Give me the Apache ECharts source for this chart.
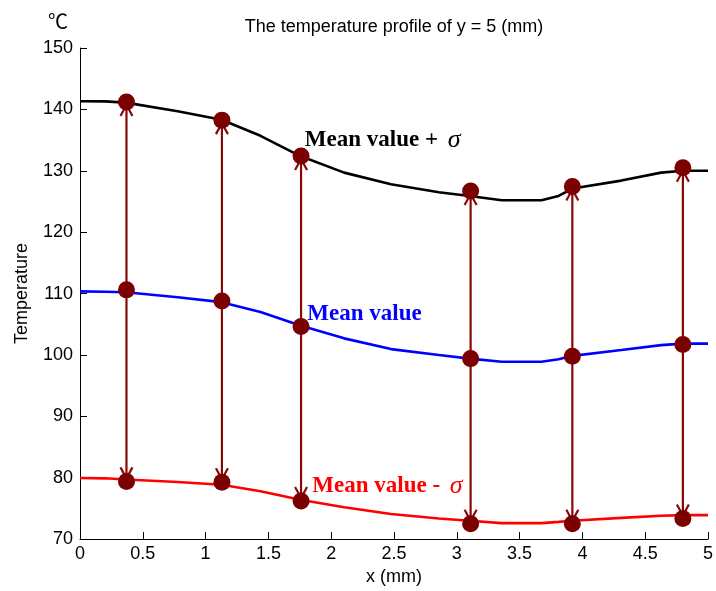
<!DOCTYPE html>
<html>
<head>
<meta charset="utf-8">
<script src="https://cdn.jsdelivr.net/npm/echarts@6/dist/echarts.min.js"></script>
<style>html,body{margin:0;padding:0;background:#fff}#c{width:716px;height:591px}</style>
</head>
<body>
<div id="c"></div>
<script>
// Curve sample positions (mm) and temperatures
const curveX = [0, 0.2, 0.365, 0.778, 1.127, 1.437, 1.754, 2.103, 2.476, 2.857, 3.103, 3.357, 3.675, 3.81, 3.921, 4.31, 4.627, 4.802, 5];
const upperCurve = [141.33, 141.3, 141.1, 139.7, 138.3, 135.7, 132.4, 129.7, 127.8, 126.5, 125.9, 125.2, 125.2, 125.9, 127.1, 128.4, 129.7, 130.0, 130.0];
const meanCurve  = [110.35, 110.3, 110.2, 109.4, 108.6, 107.0, 104.8, 102.7, 100.95, 100.0, 99.4, 98.9, 98.9, 99.3, 99.85, 100.8, 101.6, 101.85, 101.85];
const lowerCurve = [79.95, 79.9, 79.7, 79.3, 78.85, 77.8, 76.4, 75.2, 74.1, 73.35, 73.0, 72.6, 72.6, 72.8, 73.0, 73.45, 73.8, 73.9, 73.9];

// Sample points with markers
const markX = [0.37, 1.13, 1.76, 3.11, 3.92, 4.80];
const markUpper = [141.2, 138.25, 132.4, 126.7, 127.45, 130.5];
const markMean  = [110.6, 108.8, 104.65, 99.4, 99.8, 101.7];
const markLower = [79.4, 79.25, 76.2, 72.5, 72.5, 73.35];

const xTicks = { min: 0, max: 5, interval: 0.5 };
const yTicks = { min: 70, max: 150, interval: 10 };

const titleText = 'The temperature profile of y = 5 (mm)';
const labelUpper = { x: 1.79, y: 135.05, text: 'Mean value + ' };
const labelMean  = { x: 1.81, y: 106.72, text: 'Mean value' };
const labelLower = { x: 1.85, y: 78.65, text: 'Mean value - ' };

const pairs = (xs, ys) => xs.map((x, i) => [x, ys[i]]);
const arrowRows = markX.map((x, i) => [x, markMean[i], markUpper[i], markLower[i]]);

const chart = echarts.init(document.getElementById('c'), null, { renderer: 'canvas' });
const sans = 'Liberation Sans, Arial, sans-serif';
const serif = 'Liberation Serif, Times New Roman, serif';
const MARK = '#7b0000';
const ARROW = '#880808';

function curveSeries(data, color, lbl, lblColor, withSigma) {
  return {
    type: 'line', data: data, symbol: 'none', smooth: false, z: 2,
    lineStyle: { color: color, width: 2.6 },
    silent: true,
    markPoint: {
      symbol: 'circle', symbolSize: 0, silent: true, animation: false,
      data: [{ coord: [lbl.x, lbl.y], value: 0 }],
      label: {
        show: true, position: 'right', distance: 0,
        formatter: withSigma ? '{b|' + lbl.text + '}{s|σ}' : '{b|' + lbl.text + '}',
        rich: {
          b: { fontFamily: serif, fontWeight: 'bold', fontSize: 23, color: lblColor },
          s: { fontFamily: serif, fontStyle: 'italic', fontSize: 26, color: lblColor, padding: [0, 0, 0, 4] }
        }
      }
    }
  };
}

chart.setOption({
  animation: false,
  backgroundColor: '#fff',
  grid: { left: 80, right: 6, top: 48, bottom: 50, containLabel: false },
  graphic: [
    { type: 'text', x: 394, y: 27, style: { text: titleText, font: '18px ' + sans, fill: '#000', textAlign: 'center', textVerticalAlign: 'middle' } },
    { type: 'text', x: 58, y: 21, style: { text: '℃', font: '20px "Noto Sans CJK SC", sans-serif', fill: '#000', textAlign: 'center', textVerticalAlign: 'middle' } }
  ],
  xAxis: {
    type: 'value', min: xTicks.min, max: xTicks.max, interval: xTicks.interval,
    name: 'x (mm)', nameLocation: 'middle', nameGap: 26,
    nameTextStyle: { fontFamily: sans, fontSize: 18, color: '#000' },
    axisLine: { show: true, onZero: false, lineStyle: { color: '#000', width: 1 } },
    axisTick: { show: true, inside: true, length: 7, lineStyle: { color: '#000' } },
    axisLabel: { fontFamily: sans, fontSize: 18, color: '#000', margin: 6 },
    splitLine: { show: false }
  },
  yAxis: {
    type: 'value', min: yTicks.min, max: yTicks.max, interval: yTicks.interval,
    name: 'Temperature', nameLocation: 'middle', nameGap: 49,
    nameTextStyle: { fontFamily: sans, fontSize: 18, color: '#000' },
    axisLine: { show: true, onZero: false, lineStyle: { color: '#000', width: 1 } },
    axisTick: { show: true, inside: true, length: 7, lineStyle: { color: '#000' } },
    axisLabel: { fontFamily: sans, fontSize: 18, color: '#000', margin: 7 },
    splitLine: { show: false }
  },
  series: [
    curveSeries(pairs(curveX, upperCurve), '#000000', labelUpper, '#000000', true),
    curveSeries(pairs(curveX, meanCurve), '#0000ff', labelMean, '#0000ff', false),
    curveSeries(pairs(curveX, lowerCurve), '#ff0000', labelLower, '#ff0000', true),
    {
      type: 'custom', z: 3, silent: true,
      data: arrowRows,
      renderItem: function (params, api) {
        const pm = api.coord([api.value(0), api.value(1)]);
        const pu = api.coord([api.value(0), api.value(2)]);
        const pl = api.coord([api.value(0), api.value(3)]);
        const st = { stroke: ARROW, lineWidth: 2.2, fill: null };
        const L = 14, W = 6;
        return {
          type: 'group',
          children: [
            { type: 'line', shape: { x1: pm[0], y1: pm[1], x2: pu[0], y2: pu[1] }, style: st },
            { type: 'line', shape: { x1: pm[0], y1: pm[1], x2: pl[0], y2: pl[1] }, style: st },
            { type: 'polyline', shape: { points: [[pu[0] - W, pu[1] + L], [pu[0], pu[1] + 3], [pu[0] + W, pu[1] + L]] }, style: st },
            { type: 'polyline', shape: { points: [[pl[0] - W, pl[1] - L], [pl[0], pl[1] - 3], [pl[0] + W, pl[1] - L]] }, style: st }
          ]
        };
      }
    },
    { type: 'scatter', z: 4, silent: true, symbol: 'circle', symbolSize: 17, itemStyle: { color: MARK, opacity: 1 }, data: pairs(markX, markUpper) },
    { type: 'scatter', z: 4, silent: true, symbol: 'circle', symbolSize: 17, itemStyle: { color: MARK, opacity: 1 }, data: pairs(markX, markMean) },
    { type: 'scatter', z: 4, silent: true, symbol: 'circle', symbolSize: 17, itemStyle: { color: MARK, opacity: 1 }, data: pairs(markX, markLower) }
  ]
});
</script>
</body>
</html>
